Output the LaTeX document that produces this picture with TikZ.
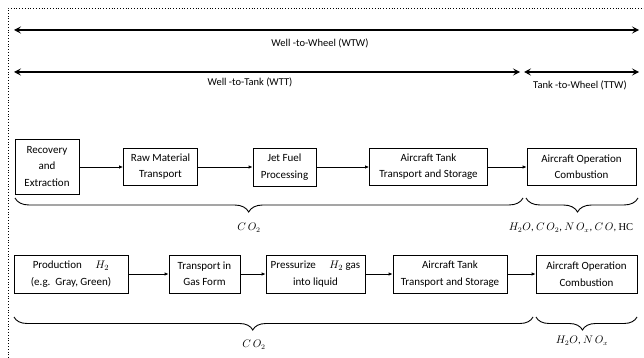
\documentclass[tikz,border=0pt]{standalone}
\usepackage{fontspec}
\setmainfont{Carlito}
\newfontfamily\serifhc{Liberation Serif}
\usetikzlibrary{arrows.meta,decorations.pathreplacing}
\begin{document}
\begin{tikzpicture}[x=1pt,y=-1pt,
  box/.style={draw,line width=0.8pt,align=center,inner sep=0pt,font=\fontsize{11}{16.5}\selectfont},
  flow/.style={line width=0.9pt,-{Latex[length=4pt,width=3.5pt]}},
  span/.style={line width=1.4pt,{Stealth[length=7pt,width=7pt,inset=3pt]}-{Stealth[length=7pt,width=7pt,inset=3pt]}},
  brc/.style={line width=0.9pt,decorate,decoration={brace,mirror,amplitude=14pt,aspect=0.46}},
  lbl/.style={font=\fontsize{10.5}{12}\selectfont,inner sep=1pt}]
\useasboundingbox (0,0) rectangle (644,358);
\draw[dotted,line width=0.8pt] (8,358) -- (8,8) -- (644,8);
% spans
\coordinate (w1) at (14,30); \coordinate (w2) at (639,30);
\coordinate (t1) at (14,72); \coordinate (t2) at (520,72);
\coordinate (t3) at (524,72); \coordinate (t4) at (639,72);
\draw[span] (w1) -- (w2);
\draw[span] (t1) -- (t2);
\draw[span] (t3) -- (t4);
\node[lbl] (wtw) at (320,43) {Well -to-Wheel (WTW)};
\node[lbl] (wtt) at (250,82) {Well -to-Tank (WTT)};
\node[lbl] (ttw) at (580,85) {Tank -to-Wheel (TTW)};
% row 1
\node[box,minimum width=64pt,minimum height=55pt] (a1) at (47,166.5) {Recovery\\and\\Extraction};
\node[box,minimum width=74pt,minimum height=37pt] (a2) at (160.5,166.5) {Raw Material\\Transport};
\node[box,minimum width=63pt,minimum height=38pt] (a3) at (284.5,167) {Jet Fuel\\Processing};
\node[box,minimum width=118pt,minimum height=37pt] (a4) at (428.5,166.5) {Aircraft Tank\\Transport and Storage};
\node[box,minimum width=109pt,minimum height=37pt] (a5) at (581.5,166.5) {Aircraft Operation\\Combustion};
\draw[flow] (a1.east |- 0,167) -- (a2.west |- 0,167);
\draw[flow] (a2.east |- 0,167) -- (a3.west |- 0,167);
\draw[flow] (a3.east |- 0,167) -- (a4.west |- 0,167);
\draw[flow] (a4.east |- 0,167) -- (a5.west |- 0,167);
\coordinate (b1) at (15,198); \coordinate (b2) at (523,198);
\coordinate (b3) at (526,198); \coordinate (b4) at (638,198);
\draw[brc] (b1) -- (b2);
\draw[brc] (b3) -- (b4);
\node[lbl] (c1) at (249,228) {$C\,O_2$};
\node[lbl] (c2) at (571,228) {$H_2O$, $C\,O_2$, $N\,O_x$, $C\,O$, {\serifhc HC}};
% row 2
\node[box,minimum width=114pt,minimum height=38pt] (d1) at (71,274) {Production \quad $H_2$\\(e.g.\ \ Gray, Green)};
\node[box,minimum width=71pt,minimum height=38pt] (d2) at (204.5,274) {Transport in\\Gas Form};
\node[box,minimum width=99pt,minimum height=38pt] (d3) at (315.5,274) {Pressurize \quad $H_2$ gas\\into liquid};
\node[box,minimum width=114pt,minimum height=38pt] (d4) at (450,274) {Aircraft Tank\\Transport and Storage};
\node[box,minimum width=101pt,minimum height=38pt] (d5) at (586.5,274) {Aircraft Operation\\Combustion};
\draw[flow] (d1) -- (d2);
\draw[flow] (d2) -- (d3);
\draw[flow] (d3) -- (d4);
\draw[flow] (d4) -- (d5);
\coordinate (e1) at (14,317); \coordinate (e2) at (533,317);
\coordinate (e3) at (536,317); \coordinate (e4) at (637,317);
\draw[brc,decoration={amplitude=13pt}] (e1) -- (e2);
\draw[brc,decoration={amplitude=13pt}] (e3) -- (e4);
\node[lbl] (f1) at (254,345) {$C\,O_2$};
\node[lbl] (f2) at (582,341) {$H_2O$, $N\,O_x$};
\end{tikzpicture}
\end{document}
